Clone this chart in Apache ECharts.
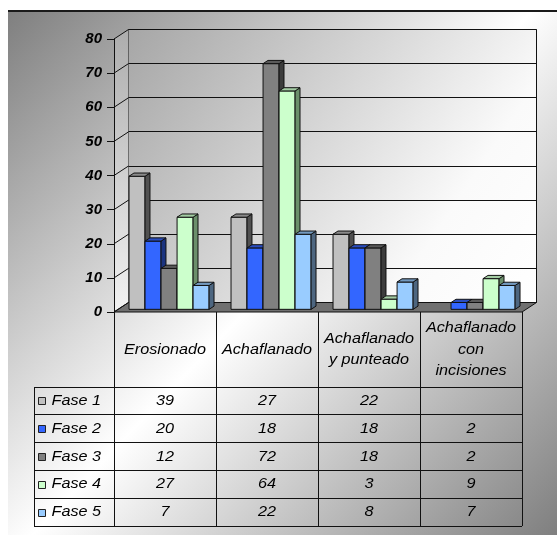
<!DOCTYPE html>
<html><head><meta charset="utf-8">
<script src="https://cdn.jsdelivr.net/npm/echarts@6/dist/echarts.min.js"></script>
<style>html,body{margin:0;padding:0;background:#fff}#c{width:557px;height:535px}</style>
</head><body><div id="c"></div>
<script>
const categories = ['Erosionado', 'Achaflanado', 'Achaflanado\ny punteado', 'Achaflanado\ncon\nincisiones'];
const seriesNames = ['Fase 1', 'Fase 2', 'Fase 3', 'Fase 4', 'Fase 5'];
const fase1 = [39, 27, 22, null];
const fase2 = [20, 18, 18, 2];
const fase3 = [12, 72, 18, 2];
const fase4 = [27, 64, 3, 9];
const fase5 = [7, 22, 8, 7];
const yTicks = [0, 10, 20, 30, 40, 50, 60, 70, 80];

const seriesValues = [fase1, fase2, fase3, fase4, fase5];
const faceColors = ['#c0c0c0', '#3366ff', '#808080', '#ccffcc', '#99ccff'];
const sideColors = ['#505050', '#1a3380', '#3c3c3c', '#6b8f6b', '#4d6680'];
const topColors  = ['#8a8a8a', '#2a4dbf', '#5a5a5a', '#a3cca3', '#7399bf'];

const DX = 14.5, DY = -9.5;            // depth of the 3D box
const BAR_F = 0.28, BAR_T = 0.34;      // bar front offset & thickness (fraction of depth)
const HEADER_H = 75, ROW_H = 27.8, LABEL_COL_W = 80;
const FONT = "'Liberation Sans', Arial, sans-serif";
const SX = 1.08;

const c5 = v => Math.round(v - 0.5) + 0.5;
function ln(x1, y1, x2, y2) {
  return { type: 'line', shape: { x1, y1, x2, y2 }, style: { stroke: '#111', lineWidth: 1 } };
}
function poly(points, fill, stroke) {
  return { type: 'polygon', shape: { points }, style: { fill, stroke: stroke || 'none', lineWidth: 1 } };
}
function txt(x, y, text, align) {
  return { type: 'text', x, y, scaleX: SX,
    style: { text, x: 0, y: 0, align: align || 'center', verticalAlign: 'middle',
      fontFamily: FONT, fontStyle: 'italic', fontSize: 15, lineHeight: 21.5, fill: '#000' } };
}

const backGrad = { type: 'linear', x: 0, y: 0, x2: 1, y2: 1,
  colorStops: [{ offset: 0, color: '#a6a6a6' }, { offset: 0.75, color: '#fafafa' }, { offset: 1, color: '#ffffff' }] };
const sideGrad = { type: 'linear', x: 0, y: 0, x2: 0, y2: 1,
  colorStops: [{ offset: 0, color: '#adadad' }, { offset: 1, color: '#f2f2f2' }] };

function renderFrame(params, api) {
  const cs = params.coordSys;
  const L = cs.x, R = cs.x + cs.width;
  const y = api.coord([0, api.value(1)])[1];
  const y0 = api.coord([0, yTicks[0]])[1];
  const yTop = api.coord([0, yTicks[yTicks.length - 1]])[1];
  const ch = [];
  if (params.dataIndex === 0) {
    ch.push(poly([[L + DX, yTop + DY], [R + DX, yTop + DY], [R + DX, y0 + DY], [L + DX, y0 + DY]], backGrad, '#111'));
    ch.push(poly([[L, yTop], [L + DX, yTop + DY], [L + DX, y0 + DY], [L, y0]], sideGrad));
    ch.push(poly([[L, y0], [R, y0], [R + DX, y0 + DY], [L + DX, y0 + DY]], '#707070', '#111'));
  }
  ch.push(ln(L + DX, c5(y + DY), R + DX, c5(y + DY)));
  ch.push(ln(L, y, L + DX, y + DY));
  return { type: 'group', children: ch };
}

function makeBarRender(s) {
  return function (params, api) {
    const c = api.value(0), v = api.value(1);
    if (v == null || isNaN(v)) return null;
    const band = api.size([1, 0])[0];
    const bw = band * 0.157;
    const base = api.coord([c, 0]);
    const top = api.coord([c, v]);
    const ox = DX * BAR_F, oy = DY * BAR_F;
    const bx = DX * BAR_T, by = DY * BAR_T;
    const x0 = base[0] - 2.5 * bw + s * bw + ox;
    const x1 = x0 + bw;
    const yb = base[1] + oy, yt = top[1] + oy;
    return { type: 'group', children: [
      poly([[x0, yt], [x1, yt], [x1, yb], [x0, yb]], faceColors[s], '#111'),
      poly([[x1, yt], [x1 + bx, yt + by], [x1 + bx, yb + by], [x1, yb]], sideColors[s], '#111'),
      poly([[x0, yt], [x1, yt], [x1 + bx, yt + by], [x0 + bx, yt + by]], topColors[s], '#111')
    ] };
  };
}

function renderTable(params, api) {
  const cs = params.coordSys;
  const c = api.value(0);
  const p = api.coord([c, 0]);
  const band = api.size([1, 0])[0];
  const xl = p[0] - band / 2, xr = p[0] + band / 2;
  const y0 = p[1];
  const yH = y0 + HEADER_H;
  const yEnd = yH + ROW_H * seriesNames.length;
  const ch = [];
  ch.push(ln(c5(xl), y0, c5(xl), yEnd));
  ch.push(ln(c5(xr), y0, c5(xr), yEnd));
  ch.push(txt(p[0], y0 + HEADER_H / 2, categories[c], 'center'));
  seriesValues.forEach((vals, s) => {
    const v = vals[c];
    if (v != null) ch.push(txt(p[0], yH + ROW_H * (s + 0.5), String(v), 'center'));
  });
  if (c === 0) {
    const xL = xl - LABEL_COL_W;
    const R = cs.x + cs.width;
    ch.push(ln(c5(xL), yH, c5(xL), yEnd));
    for (let k = 0; k <= seriesNames.length; k++) {
      const yy = c5(yH + ROW_H * k);
      ch.push(ln(xL, yy, R, yy));
    }
    seriesNames.forEach((n, s) => {
      const yc = yH + ROW_H * (s + 0.5);
      ch.push({ type: 'rect', shape: { x: Math.round(xL + 4) + 0.5, y: Math.round(yc - 3.5) + 0.5, width: 7, height: 7 },
        style: { fill: faceColors[s], stroke: '#222', lineWidth: 1 } });
      ch.push(txt(xL + 17.5, yc, n, 'left'));
    });
  }
  return { type: 'group', children: ch };
}

const series = [{
  type: 'custom', name: 'frame', renderItem: renderFrame,
  data: yTicks.map(v => [0, v]), encode: { x: 0, y: 1 }, z: 1, silent: true
}];
seriesValues.forEach((vals, s) => {
  series.push({
    type: 'custom', name: seriesNames[s], renderItem: makeBarRender(s),
    data: vals.map((v, i) => [i, v == null ? '-' : v]), encode: { x: 0, y: 1 }, z: 2
  });
});
series.push({
  type: 'custom', name: 'table', renderItem: renderTable,
  data: categories.map((c, i) => [i, 0]), encode: { x: 0, y: 1 }, z: 3, silent: true
});

const chart = echarts.init(document.getElementById('c'), null, { renderer: 'canvas' });
chart.setOption({
  animation: false,
  graphic: { elements: [
    { type: 'rect', z: -100, shape: { x: 8, y: 11, width: 549, height: 524 },
      style: { fill: { type: 'linear', x: 0, y: 0, x2: 1, y2: 1,
        colorStops: [{ offset: 0, color: '#7f7f7f' }, { offset: 0.5, color: '#ffffff' }, { offset: 1, color: '#7f7f7f' }] } } },
    { type: 'line', z: -99, shape: { x1: 8, y1: 11, x2: 557, y2: 11 }, style: { stroke: '#1a1a1a', lineWidth: 2 } }
  ] },
  grid: { left: 114, right: 35, top: 39, bottom: 223 },
  xAxis: { type: 'category', data: categories, axisLine: { show: false }, axisTick: { show: false },
    axisLabel: { show: false }, splitLine: { show: false } },
  yAxis: { type: 'value', min: yTicks[0], max: yTicks[yTicks.length - 1], interval: 10, z: 10,
    axisLine: { show: true, lineStyle: { color: '#111', width: 1 } },
    axisTick: { show: true, length: 7, lineStyle: { color: '#111' } },
    splitLine: { show: false },
    axisLabel: { margin: 12, color: '#000', fontFamily: FONT, fontWeight: 'bold', fontStyle: 'italic', fontSize: 15 } },
  series
});
</script>
</body></html>
